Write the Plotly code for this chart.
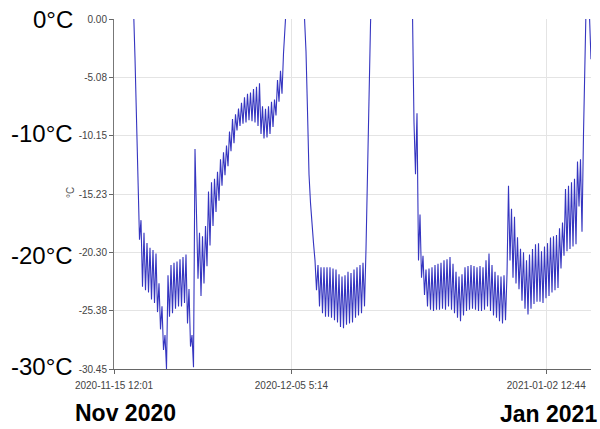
import plotly.graph_objects as go
import pandas as pd

# ---- data ----
start_time = "2020-11-17 12:01"
step_hours = 4
temps_c = [
    3, 1, -3.4, -9.5, -15.0, -19.2,
    -17.5, -23.3, -18.6, -23.6, -19.5, -23.8, -19.9, -24.4, -20.1, -24.7, -20.4, -25.5, -23.0, -27.0, -25.0, -28.8, -27.5, -30.45,
    -22.3, -25.9, -21.4, -25.6, -21.2, -25.2, -21.1, -25.0, -20.9, -25.0, -20.7, -24.7, -20.5, -26.5, -23.5, -28.5, -27.5, -30.3,
    -11.3, -18.1, -22.6, -18.6, -24.1, -18.9, -23.0,
    -18.0, -21.5, -15.0, -19.7, -14.2, -18.0, -13.9, -16.8, -13.3, -15.8, -12.2, -14.5, -11.6, -13.6, -11.0,
    -12.8, -9.8, -11.5, -8.7, -10.8, -8.3, -9.7, -7.8, -9.3, -7.3, -9.1, -6.8, -9.0, -6.5,
    -8.8, -6.4, -8.9, -6.1, -9.0, -5.9, -9.3, -5.6, -10.0, -7.6, -10.4, -7.8, -10.3, -7.6, -10.0, -7.2,
    -9.4, -7.0, -8.4, -5.3, -7.2, -4.5, -6.5, -3.0, 0.5, 4,
    6, 6, 6, 6, 6, 6, 6, 6, 6, 6,
    3, 0.5, -2.8, -8.0, -13.5, -16.0, -18.3, -19.5, -21.0,
    -23.6, -21.4, -25.0, -21.6, -25.6, -21.6, -25.9, -21.6, -25.9, -21.6, -26.0, -21.7, -26.2, -21.8, -26.4,
    -22.2, -26.8, -22.4, -26.9, -22.3, -26.6, -22.0, -26.5, -22.1, -26.4, -21.8, -26.0, -21.6, -25.8, -21.4,
    -25.6, -21.2, -25.0, -20.0, -13.0, -6.0, -0.5, 4,
    6, 6, 6, 6, 6, 6, 6, 6, 6, 6, 6, 6, 6, 6, 6, 6, 6, 6, 6, 6, 6, 6, 6, 6, 6, 6,
    0.5, -9.0, -13.5, -8.2, -21.0, -17.0, -22.5, -20.6, -24.0,
    -21.8, -25.0, -21.7, -25.3, -21.6, -25.4, -21.4, -25.3, -21.3, -25.3,
    -21.2, -25.2, -21.0, -25.3, -20.9, -25.0, -20.7, -25.3, -21.3, -25.6,
    -22.0, -26.0, -22.4, -26.3, -22.2, -25.8, -21.6, -25.4, -21.5, -25.3,
    -21.4, -25.2, -21.5, -25.3, -21.6, -25.4, -21.5, -25.4, -21.6, -25.3,
    -21.0, -25.0, -20.4, -25.4, -21.4, -25.8, -22.0, -26.0, -22.3, -26.3,
    -22.4, -26.5, -22.3, -26.2, -22.2,
    -14.5, -21.0, -16.5, -22.5, -17.2, -23.0, -19.0, -23.5, -20.0, -24.5,
    -20.3, -25.2, -21.0, -25.7, -20.5, -25.2, -20.0, -24.8, -19.6, -24.6,
    -19.5, -24.6, -20.2, -24.7, -19.8, -24.3, -19.5, -24.1, -19.0, -23.8,
    -18.9, -23.6, -18.8, -23.4, -18.2, -21.7, -17.7, -20.6, -14.8, -20.2,
    -14.5, -20.0, -14.2, -19.8, -13.9, -19.6, -12.4, -16.3, -12.2, -18.5,
    -10.0, -1.0, 3, 4, 1, -3.5,
]

y_tick_vals = [0.00, -5.08, -10.15, -15.23, -20.30, -25.38, -30.45]
y_tick_text = ["0.00", "-5.08", "-10.15", "-15.23", "-20.30", "-25.38", "-30.45"]
x_tick_vals = ["2020-11-15 12:01", "2020-12-05 05:14", "2021-01-02 12:44"]
x_tick_text = ["2020-11-15 12:01", "2020-12-05 5:14", "2021-01-02 12:44"]
x_range = ["2020-11-15 12:01", "2021-01-07 12:01"]
y_range = [-30.45, 0.0]

big_labels = ["0°C", "-10°C", "-20°C", "-30°C"]
big_label_levels = [0.0, -10.0, -20.6, -30.2]
month_labels = ["Nov 2020", "Jan 2021"]
axis_unit = "°C"

# ---- figure ----
times = pd.date_range(start=start_time, periods=len(temps_c), freq=f"{step_hours}h")

fig = go.Figure()
fig.add_trace(go.Scatter(
    x=times, y=temps_c, mode="lines",
    line=dict(color="#3535c0", width=1.1),
    showlegend=False, hoverinfo="skip",
))

W, H = 600, 429
L, R, T, B = 114, 9, 19, 60
pw, ph = W - L - R, H - T - B

def px_x(px):
    return (px - L) / pw

def px_y(py):
    return (H - B - py) / ph

small_font = dict(family="Liberation Sans, Arial, sans-serif", size=10, color="#444")

fig.update_layout(
    width=W, height=H,
    margin=dict(l=L, r=R, t=T, b=B),
    paper_bgcolor="white", plot_bgcolor="white",
    xaxis=dict(
        range=x_range, tickvals=x_tick_vals, ticktext=x_tick_text,
        showgrid=True, gridcolor="#e4e4e4", gridwidth=1,
        showline=True, linecolor="#666", linewidth=1,
        ticks="outside", ticklen=4, tickcolor="#666",
        tickfont=small_font, zeroline=False, ticklabelstandoff=3,
    ),
    yaxis=dict(
        range=y_range, tickvals=y_tick_vals, ticktext=y_tick_text,
        showgrid=True, gridcolor="#e4e4e4", gridwidth=1,
        showline=True, linecolor="#777", linewidth=1,
        ticks="outside", ticklen=4, tickcolor="#666",
        tickfont=small_font, zeroline=False,
    ),
)

big_font = dict(family="Liberation Sans, Arial, sans-serif", size=24, color="black")
for txt, lvl in zip(big_labels, big_label_levels):
    fig.add_annotation(
        x=px_x(75), xref="paper", y=lvl, yref="y",
        text=txt, showarrow=False, xanchor="right", yanchor="middle",
        font=big_font,
    )

month_font = dict(family="Liberation Sans, Arial, sans-serif", size=23, color="black")
fig.add_annotation(x=px_x(125.5), y=px_y(413), xref="paper", yref="paper",
                   text=f"<b>{month_labels[0]}</b>", showarrow=False,
                   xanchor="center", yanchor="middle", font=month_font)
fig.add_annotation(x=px_x(548.5), y=px_y(414), xref="paper", yref="paper",
                   text=f"<b>{month_labels[1]}</b>", showarrow=False,
                   xanchor="center", yanchor="middle", font=month_font)

fig.add_annotation(x=px_x(70), y=px_y(193), xref="paper", yref="paper",
                   text=axis_unit, showarrow=False, textangle=-90,
                   xanchor="center", yanchor="middle",
                   font=dict(family="Liberation Sans, Arial, sans-serif", size=10, color="#555"))

fig.write_html("out.html",
               config={"displayModeBar": False},
               post_script="document.body.style.margin='0';document.body.style.padding='0';")
